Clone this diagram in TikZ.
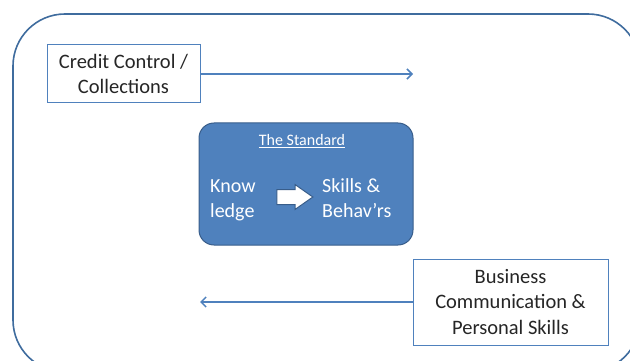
\documentclass[tikz,border=0pt]{standalone}
\usepackage{fontspec}
\setmainfont{Carlito}
\usetikzlibrary{arrows.meta,shapes.arrows}
\definecolor{bord}{HTML}{4F81BD}
\definecolor{outer}{HTML}{3F6C9E}
\definecolor{stdfill}{HTML}{4F81BD}
\definecolor{stdbord}{HTML}{385D8A}
\definecolor{txt}{HTML}{262626}
\tikzset{
  topic/.style={draw=bord, line width=1pt, fill=white, text=txt, align=center, inner sep=0pt,
    font=\fontsize{20.5}{25.5}\selectfont},
  flow/.style={draw=bord, line width=1.5pt, -{Straight Barb[length=5pt,width=10pt]}},
  stdtext/.style={text=white, align=left, font=\fontsize{20}{25.5}\selectfont, anchor=base west, inner sep=0pt},
}
\begin{document}
\begin{tikzpicture}[x=1pt,y=-1pt]
\useasboundingbox (0,0) rectangle (630,361);
\draw[outer, line width=1.6pt, rounded corners=52pt] (13,14) rectangle (640,372);
\node[topic, minimum width=153pt, minimum height=58pt] (cc) at (123.5,74) {Credit Control /\\Collections};
\coordinate (ccend) at (413,74);
\draw[flow] (cc.east |- ccend) -- (ccend);
\node[draw=stdbord, fill=stdfill, line width=1pt, rounded corners=15pt, minimum width=214pt, minimum height=122pt] (std) at (306,184) {};
\node[text=white, font=\fontsize{16}{19}\selectfont, anchor=base] (title) at (302,146) {\underline{The Standard}};
\node[stdtext] (know) at (210,217.5) {Know\\ledge};
\node[stdtext] (skills) at (322,217.5) {Skills \&\\Behav’rs};
\node[single arrow, draw=stdbord, fill=white, line width=1pt, minimum height=36pt, inner xsep=0pt, inner ysep=7pt, single arrow head extend=5pt, single arrow tip angle=70] (ar) at (289.5,197) {};
\node[topic, minimum width=195pt, minimum height=86pt] (bc) at (510.5,302) {Business\\Communication \&\\Personal Skills};
\coordinate (bcend) at (200,302);
\draw[flow] (bc.west |- bcend) -- (bcend);
\end{tikzpicture}
\end{document}
